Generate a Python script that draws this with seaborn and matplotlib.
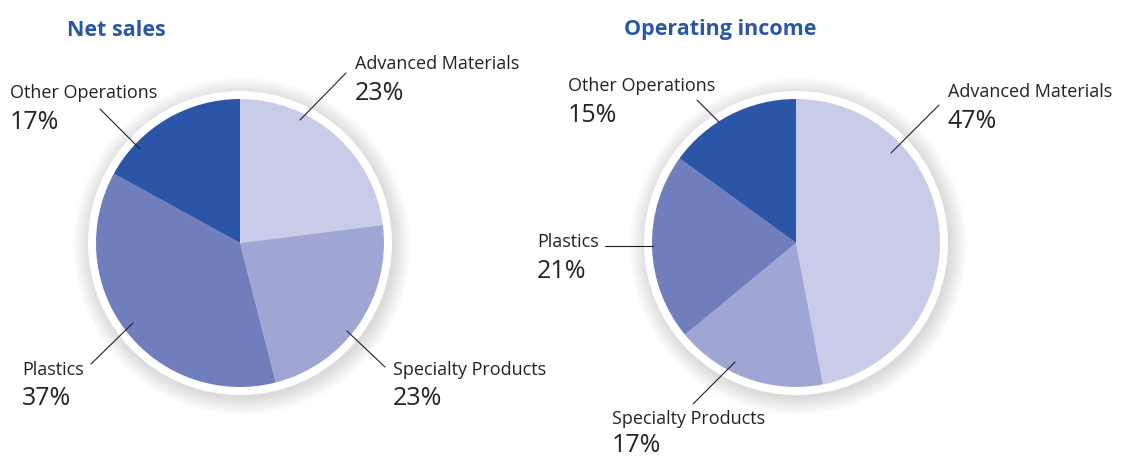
import matplotlib
matplotlib.use('Agg')
import matplotlib.pyplot as plt
from matplotlib.patches import Circle
import seaborn as sns

# Data
segments = ['Advanced Materials', 'Specialty Products', 'Plastics', 'Other Operations']
net_sales = [23, 23, 37, 17]
operating_income = [47, 17, 21, 15]
titles = ['Net sales', 'Operating income']

sns.set_theme(style='white')
plt.rcParams['font.family'] = ['Open Sans', 'DejaVu Sans']

colors = sns.color_palette(['#C9CCE8', '#A0A6D4', '#717EBC', '#2B55A6'])
title_color = '#2A56A8'

fig = plt.figure(figsize=(11.22, 4.58), dpi=100)
ax = fig.add_axes([0, 0, 1, 1])

radius = 144
centers = [(240, 243), (796, 243)]

# label layout: (text x, name baseline, pct baseline, line start, line end)
label_layout = [
    {'Advanced Materials': (355, 69, 100, (300, 120), (346, 73)),
     'Specialty Products': (393, 375, 405, (347, 331), (385, 367)),
     'Plastics': (22, 375, 405, (91, 364), (133, 323)),
     'Other Operations': (10, 98, 129, (100, 109), (140, 149))},
    {'Advanced Materials': (948, 97, 128, (939, 105), (891, 153)),
     'Specialty Products': (612, 424, 452, (693, 404), (735, 362)),
     'Plastics': (537, 247, 278, (605, 246), (653, 246)),
     'Other Operations': (568, 91, 122, (697, 100), (719, 122))},
]

for k, (values, center) in enumerate(zip([net_sales, operating_income], centers)):
    cx, cy = center
    # soft shadow behind the white ring
    for i in range(18):
        ax.add_patch(Circle((cx + 2, cy + 3), 152 + i, facecolor='black',
                            edgecolor='none', alpha=0.009, zorder=1))
    ax.add_patch(Circle((cx, cy), 152, facecolor='white', edgecolor='none', zorder=2))
    wedges, _ = ax.pie(values, colors=colors, startangle=-90, counterclock=True,
                       center=(cx, cy), radius=radius,
                       wedgeprops=dict(linewidth=0, zorder=3))
    for w in wedges:
        w.set_zorder(3)

    ax.text([67, 624][k], 30, titles[k], fontsize=15.5, fontweight='bold',
            color=title_color, ha='left', va='center')

    for seg, val in zip(segments, values):
        tx, ny, py, p0, p1 = label_layout[k][seg]
        ax.text(tx, ny, seg, fontsize=13, color='#222222', ha='left', va='baseline')
        ax.text(tx, py, f'{val}%', fontsize=18, color='#222222', ha='left', va='baseline')
        ax.plot([p0[0], p1[0]], [p0[1], p1[1]], color='#222222', lw=0.8, zorder=5)

ax.set_xlim(0, 1122)
ax.set_ylim(458, 0)
ax.axis('off')

fig.savefig('out.png', dpi=100, facecolor='white')
